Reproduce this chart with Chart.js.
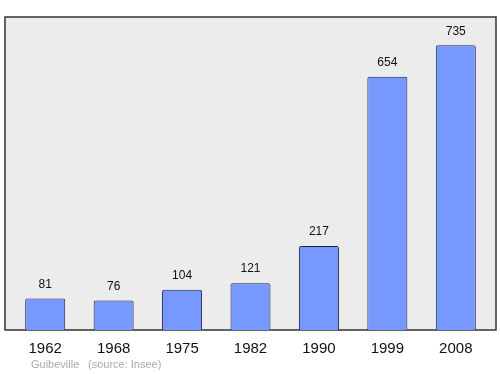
<!DOCTYPE html>
<html>
<head>
<meta charset="utf-8">
<script src="https://cdn.jsdelivr.net/npm/chart.js@4"></script>
<style>
  html, body { margin: 0; padding: 0; background: #fff; }
  #wrap { width: 500px; height: 374px; }
</style>
</head>
<body>
<div id="wrap"><canvas id="popChart" width="500" height="374"></canvas></div>
<script>
var years = ['1962', '1968', '1975', '1982', '1990', '1999', '2008'];
var population = [81, 76, 104, 121, 217, 654, 735];
var placeName = 'Guibeville';
var sourceText = '(source: Insee)';

// fond gris + cadre, un peu plus large que la zone des barres
var framePlugin = {
    id: 'frame',
    beforeDraw: function (chart) {
        var a = chart.chartArea;
        var c = chart.ctx;
        c.save();
        c.fillStyle = '#ececec';
        c.fillRect(5, a.top, 491, a.bottom - a.top);
        c.strokeStyle = '#333';
        c.lineWidth = 1.5;
        c.strokeRect(5, a.top, 491, a.bottom - a.top);
        c.restore();
    },
    afterDatasetsDraw: function (chart) {
        var c = chart.ctx;
        var meta = chart.getDatasetMeta(0);
        c.save();
        c.fillStyle = '#111';
        c.font = '12px "Liberation Sans", Arial, sans-serif';
        c.textAlign = 'center';
        c.textBaseline = 'middle';
        meta.data.forEach(function (bar, i) {
            c.fillText(population[i], bar.x, bar.y - 14);
        });
        // source
        c.fillStyle = '#aaa';
        c.font = '11px "Liberation Sans", Arial, sans-serif';
        c.textAlign = 'left';
        c.fillText(placeName, 31, 365);
        c.fillText(sourceText, 88, 365);
        c.restore();
    }
};

var ctx = document.getElementById('popChart').getContext('2d');
var chart = new Chart(ctx, {
    type: 'bar',
    data: {
        labels: years,
        datasets: [{
            data: population,
            backgroundColor: '#7799ff',
            borderColor: '#1e2147',
            borderWidth: 1,
            borderRadius: 2,
            borderSkipped: 'bottom',
            barPercentage: 0.585,
            categoryPercentage: 1
        }]
    },
    options: {
        responsive: false,
        animation: false,
        layout: { padding: { left: 11, right: 10, top: 17, bottom: 6 } },
        plugins: {
            legend: { display: false },
            tooltip: { enabled: false }
        },
        scales: {
            x: {
                grid: { display: false, drawTicks: false },
                border: { display: false },
                ticks: {
                    color: '#111',
                    padding: 10,
                    font: { size: 15, family: '"Liberation Sans", Arial, sans-serif' }
                }
            },
            y: {
                display: false,
                min: 0,
                max: 808
            }
        }
    },
    plugins: [framePlugin]
});
</script>
</body>
</html>
